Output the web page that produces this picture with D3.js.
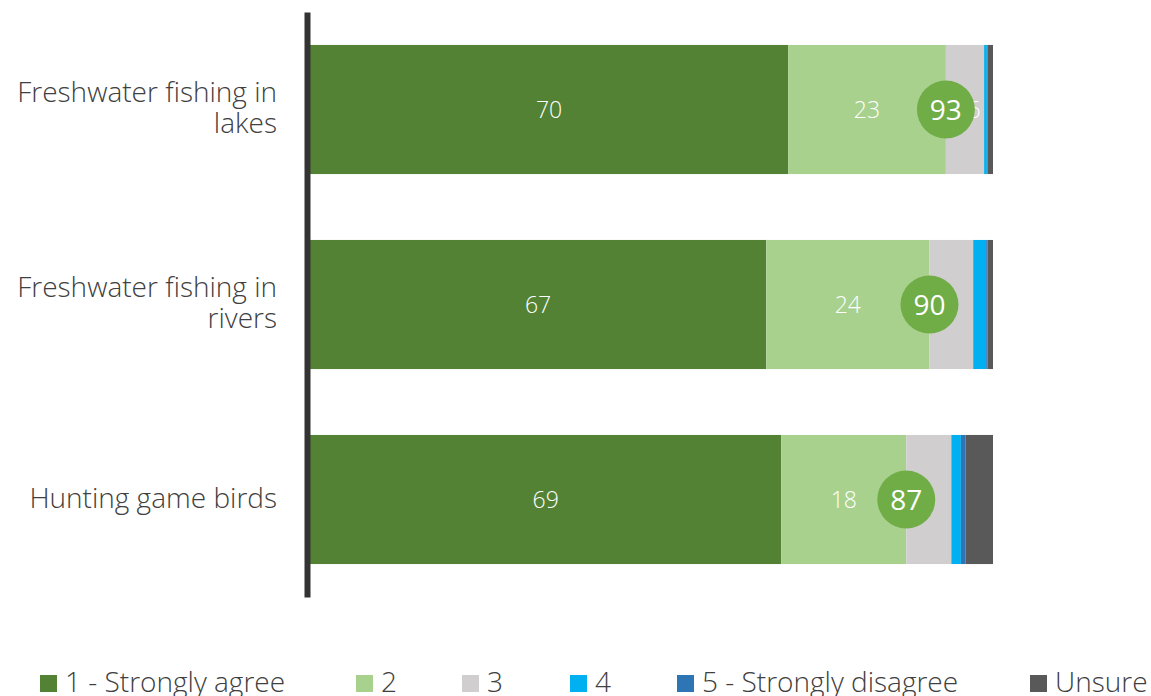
<!DOCTYPE html>
<html>
<head>
<meta charset="utf-8">
<script src="https://cdn.jsdelivr.net/npm/d3@7"></script>
<style>
  html, body { margin: 0; padding: 0; background: #ffffff; }
  svg { display: block; }
  text { font-family: "Open Sans", "Noto Sans", sans-serif; }
</style>
</head>
<body>
<svg id="chart" width="1151" height="696"></svg>
<script>
// Activity categories (each split over two lines where it wraps)
const categories = ["Freshwater fishing in lakes", "Freshwater fishing in rivers", "Hunting game birds"];
const categoryLines = [["Freshwater fishing in", "lakes"], ["Freshwater fishing in", "rivers"], ["Hunting game birds"]];

// Response scale
const responses = ["1 - Strongly agree", "2", "3", "4", "5 - Strongly disagree", "Unsure"];
const colors = ["#548235", "#A9D18E", "#D0CECE", "#00B0F0", "#2E75B6", "#595959"];

// Percent of respondents per response, one array per response level
const stronglyAgree = [70, 66.8, 69];
const agree = [23.1, 23.9, 18.3];
const neutral = [5.6, 6.4, 6.6];
const disagree = [0.4, 1.9, 1.4];
const stronglyDisagree = [0.1, 0.2, 0.7];
const unsure = [0.8, 0.8, 4.0];

// Top-two-box totals shown in the circles
const topTwo = [93, 90, 87];

// Which segment values carry a printed label
const labelled = [[true, true, true, false, false, false],
                  [true, true, false, false, false, false],
                  [true, true, false, false, false, false]];

const series = [stronglyAgree, agree, neutral, disagree, stronglyDisagree, unsure];

const svg = d3.select("#chart");

const x = d3.scaleLinear().domain([0, 100]).range([310, 993]);
const y = d3.scaleBand().domain(categories).range([12, 597])
  .paddingInner(0.338).paddingOuter(0.169);

// Stack rows
const rows = categories.map((c, i) => {
  let acc = 0;
  return responses.map((r, k) => {
    const v = series[k][i];
    const seg = { cat: c, row: i, k, v, x0: acc, x1: acc + v };
    acc += v;
    return seg;
  });
});

const g = svg.append("g");

rows.forEach(segs => {
  g.selectAll(null).data(segs).enter().append("rect")
    .attr("x", d => x(d.x0))
    .attr("y", d => y(d.cat))
    .attr("width", d => x(d.x1) - x(d.x0))
    .attr("height", y.bandwidth())
    .attr("fill", d => colors[d.k]);
});

// Segment value labels
rows.forEach(segs => {
  g.selectAll(null).data(segs.filter(d => labelled[d.row][d.k])).enter().append("text")
    .attr("x", d => x((d.x0 + d.x1) / 2) + (d.k === 2 ? 9 : 0))
    .attr("y", d => y(d.cat) + y.bandwidth() / 2)
    .attr("dy", "0.36em")
    .attr("text-anchor", "middle")
    .attr("fill", "#ffffff")
    .attr("font-size", 23)
    .attr("font-weight", 300)
    .text(d => d3.format(".0f")(d.v));
});

// Top-two-box circles at the end of the "2" segment
rows.forEach((segs, i) => {
  const cx = x(segs[1].x1);
  const cy = y(segs[1].cat) + y.bandwidth() / 2;
  g.append("circle").attr("cx", cx).attr("cy", cy).attr("r", 29).attr("fill", "#70AD47");
  g.append("text").attr("x", cx).attr("y", cy).attr("dy", "0.36em")
    .attr("text-anchor", "middle").attr("fill", "#ffffff")
    .attr("font-size", 28).text(topTwo[i]);
});

// Category axis
const axis = d3.axisLeft(y).tickSize(0).tickFormat("");
const axisG = svg.append("g").attr("transform", "translate(307,0)").call(axis);
axisG.select(".domain").attr("stroke", "#333333").attr("stroke-width", 6);

categories.forEach((c, i) => {
  const lines = categoryLines[i];
  const cy = y(c) + y.bandwidth() / 2;
  const lh = 31;
  const first = cy + 8 - (lines.length - 1) * lh / 2;
  const t = svg.append("text")
    .attr("text-anchor", "end")
    .attr("fill", "#404040")
    .attr("font-size", 28)
    .attr("font-weight", 300);
  lines.forEach((ln, j) => {
    t.append("tspan").attr("x", 277).attr("y", first + j * lh).text(ln);
  });
});

// Legend
const legendX = [40, 356, 462, 570, 677, 1030];
const legend = svg.append("g");
responses.forEach((r, k) => {
  legend.append("rect").attr("x", legendX[k]).attr("y", 675).attr("width", 17).attr("height", 17)
    .attr("fill", colors[k]);
  legend.append("text").attr("x", legendX[k] + 25).attr("y", 692)
    .attr("fill", "#404040").attr("font-size", 28).attr("font-weight", 300)
    .text(r);
});
</script>
</body>
</html>
